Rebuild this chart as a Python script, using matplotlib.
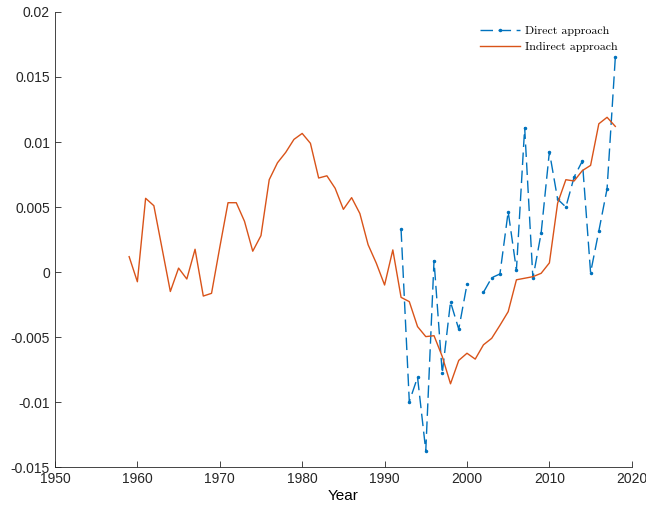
import matplotlib.pyplot as plt
import numpy as np

BLUE, ORANGE = "#0072BD", "#D95319"
plt.rcParams.update({
    "font.family": "Liberation Sans", "font.size": 10,
    "axes.linewidth": 0.6, "axes.edgecolor": "#262626",
    "xtick.direction": "in", "ytick.direction": "in",
    "xtick.color": "#262626", "ytick.color": "#262626",
    "axes.unicode_minus": False,
})

# indirect approach, 1959-2018
ind_years = np.arange(1959, 2019)
ind_vals = [0.00118, -0.00075, 0.00567, 0.0051, 0.0018, -0.0015, 0.0003, -0.00054,
            0.00175, -0.00185, -0.00164, 0.0019, 0.00533, 0.00533, 0.0039, 0.0016,
            0.0028, 0.0071, 0.0084, 0.0092, 0.0102, 0.01066, 0.0099, 0.00723,
            0.0074, 0.00644, 0.00482, 0.00572, 0.0045, 0.0021, 0.00067, -0.001,
            0.0017, -0.00195, -0.00228, -0.0042, -0.00497, -0.0049, -0.0065, -0.0086,
            -0.0068, -0.00625, -0.0067, -0.0056, -0.0051, -0.0041, -0.00305, -0.0006,
            -0.00048, -0.00036, -0.0001, 0.0007, 0.0053, 0.0071, 0.007, 0.0078,
            0.0082, 0.0114, 0.0119, 0.0112]

# direct approach, 1992-2018 (2001 missing)
dir_years = np.arange(1992, 2019)
dir_vals = [0.00328, -0.00997, -0.0081, -0.01375, 0.00087, -0.0078, -0.0023, -0.0044,
            -0.00095, np.nan, -0.00156, -0.00044, -0.00015, 0.00464, 0.00015, 0.0111,
            -0.00049, 0.003, 0.00925, 0.0056, 0.005, 0.0073, 0.00854, -0.00005,
            0.00315, 0.0064, 0.0165]

fig = plt.figure(figsize=(6.46, 5.15), dpi=100)
ax = fig.add_axes([0.0851, 0.0932, 0.8929, 0.8835])
ax.plot(dir_years, dir_vals, "--", marker=".", markersize=3, color=BLUE,
        linewidth=1.0, dashes=(9, 4), label="Direct approach")
ax.plot(ind_years, ind_vals, "-", color=ORANGE, linewidth=1.0,
        label="Indirect approach")

ax.set_xlim(1950, 2020)
ax.set_ylim(-0.015, 0.02)
ax.set_xticks(np.arange(1950, 2021, 10))
yt = [-0.015, -0.01, -0.005, 0, 0.005, 0.01, 0.015, 0.02]
ax.set_yticks(yt)
ax.set_yticklabels(["-0.015", "-0.01", "-0.005", "0", "0.005", "0.01", "0.015", "0.02"])
ax.set_xlabel("Year", fontsize=11, labelpad=2)
ax.spines["top"].set_visible(False)
ax.spines["right"].set_visible(False)
ax.tick_params(length=4, width=0.6)

ax.legend(loc="upper right", bbox_to_anchor=(618 / 646, 1 - 26 / 515),
          bbox_transform=fig.transFigure, frameon=False,
          prop={"family": "cmr10", "size": 8.6}, handlelength=3.35,
          handletextpad=0.42, labelspacing=0.45, borderaxespad=0, borderpad=0)

fig.savefig("out.png", dpi=100)
